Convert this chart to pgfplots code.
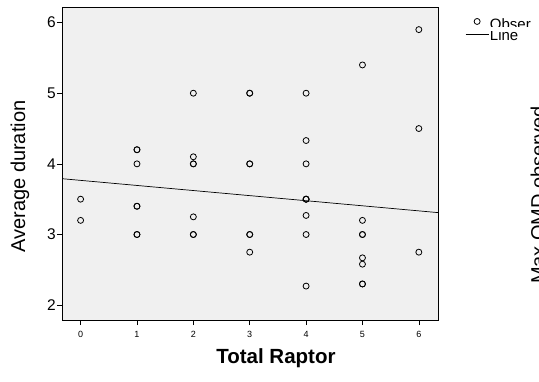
\documentclass[border=0pt]{standalone}
\usepackage{pgfplots}
\pgfplotsset{compat=1.18}
\usepackage{fontspec}
\setmainfont{Liberation Sans}
\definecolor{bggray}{HTML}{F0F0F0}
\pgfplotsset{
  scatleg/.style={legend image code/.code={\draw[mark repeat=2,mark phase=2,##1] plot coordinates {(0pt,0pt) (11.5pt,0pt) (23pt,0pt)};}},
  lineleg/.style={legend image code/.code={\draw[##1] (0pt,0pt) -- (23pt,0pt);}},
}
\begin{document}
\begin{tikzpicture}[x=1pt,y=1pt]
\useasboundingbox (0,0) rectangle (539,381);
\begin{axis}[
  at={(62pt,61pt)}, anchor=south west,
  scale only axis, width=376pt, height=313pt,
  xmin=-0.33, xmax=6.34, ymin=1.79, ymax=6.22,
  xtick={0,1,2,3,4,5,6}, ytick={2,3,4,5,6},
  axis background/.style={fill=bggray},
  axis line style={line width=0.8pt},
  tick style={black, line width=0.6pt},
  tick align=outside, tick pos=left,
  major tick length=5pt,
  /pgf/number format/assume math mode=true,
  xticklabel style={font=\fontsize{9}{10}\selectfont, yshift=-3pt},
  yticklabel style={font=\fontsize{15.5}{17}\selectfont, inner sep=1pt},
  xlabel={\textbf{Total Raptor}},
  xlabel style={font=\fontsize{20.5}{24}\selectfont, at={(axis description cs:0.569,-0.121)}, anchor=center},
  ylabel={Average duration},
  ylabel style={font=\fontsize{20}{24}\selectfont, at={(axis description cs:-0.112,0.458)}, anchor=center},
  legend style={at={(axis description cs:1.072,0.972)}, anchor=north west, draw=none, fill=none,
    font=\fontsize{15}{15}\selectfont, inner sep=0pt, row sep=2pt,
    nodes={inner sep=1pt, text height=9pt, text depth=0pt}},
  legend cell align=left,
]
\addplot[only marks, mark=o, mark size=3pt, line width=0.8pt, black, scatleg]
coordinates {
(0,3.5) (0,3.2)
(1,4.2) (1,4.2) (1,4.0) (1,3.4) (1,3.4) (1,3.0) (1,3.0)
(2,5.0) (2,4.1) (2,4.0) (2,4.0) (2,3.25) (2,3.0) (2,3.0)
(3,5.0) (3,5.0) (3,4.0) (3,4.0) (3,3.0) (3,3.0) (3,2.75)
(4,5.0) (4,4.33) (4,4.0) (4,3.5) (4,3.5) (4,3.5) (4,3.27) (4,3.0) (4,2.27)
(5,5.4) (5,3.2) (5,3.0) (5,3.0) (5,2.67) (5,2.58) (5,2.3) (5,2.3)
(6,5.9) (6,4.5) (6,2.75)
};
\addlegendentry{\raisebox{-4pt}{Obser}}
\addplot[black, line width=0.7pt, lineleg]
coordinates {(-0.33,3.79) (6.34,3.31)};
\addlegendentry{\raisebox{-2pt}{Line}}
\end{axis}
\fill[white] (490,350) rectangle (539,354);
\node[rotate=90, anchor=base, font=\fontsize{20}{24}\selectfont] at (545,186) {Max OMD observed};
\end{tikzpicture}
\end{document}
